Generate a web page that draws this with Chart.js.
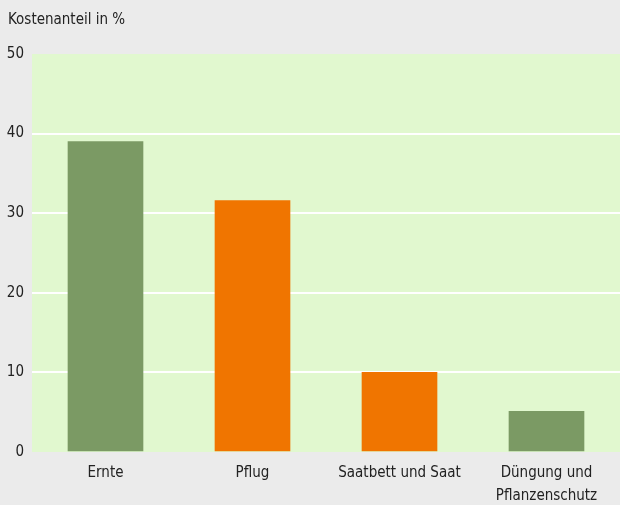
<!DOCTYPE html>
<html><head><meta charset="utf-8">
<script src="https://cdn.jsdelivr.net/npm/chart.js@4"></script>
<style>html,body{margin:0;padding:0;background:#ebebeb;}#wrap{width:620px;height:505px;position:relative;}</style>
</head><body>
<div id="wrap"><canvas id="c" width="620" height="505"></canvas></div>
<script>
const categories = ['Ernte', 'Pflug', 'Saatbett und Saat', ['Düngung und', 'Pflanzenschutz']];
const values = [39, 31.6, 10, 5.1];
const barColors = ['#7b9a64', '#f07500', '#f07500', '#7b9a64'];
const yTicks = [0, 10, 20, 30, 40, 50];
const yTitle = 'Kostenanteil in %';

const FONT = "'Liberation Sans Narrow', 'DejaVu Sans Condensed', 'Roboto', sans-serif";

const bgPlugin = {
  id: 'bg',
  beforeDraw(chart) {
    const {ctx, chartArea: a} = chart;
    ctx.save();
    ctx.fillStyle = '#ebebeb';
    ctx.fillRect(0, 0, chart.width, chart.height);
    ctx.fillStyle = '#e1f8cf';
    ctx.fillRect(a.left, a.top, a.right - a.left, a.bottom - a.top);
    ctx.fillStyle = '#222';
    ctx.font = '15px ' + FONT;
    ctx.textBaseline = 'middle';
    ctx.textAlign = 'left';
    ctx.fillText(yTitle, 8, 20);
    ctx.restore();
  }
};

new Chart(document.getElementById('c'), {
  type: 'bar',
  data: {
    labels: categories,
    datasets: [{ data: values, backgroundColor: barColors, barThickness: 75, borderWidth: 0 }]
  },
  options: {
    responsive: false,
    animation: false,
    devicePixelRatio: 1,
    layout: { padding: { top: 54, right: 0, left: 0, bottom: 0 } },
    plugins: { legend: { display: false }, tooltip: { enabled: false } },
    scales: {
      x: {
        grid: { display: false, drawTicks: false },
        border: { display: false },
        ticks: { color: '#222', font: { family: FONT, size: 15, lineHeight: 1.55 }, padding: 9, maxRotation: 0, autoSkip: false },
        afterFit(s) { s.height = 53; }
      },
      y: {
        min: 0, max: 50,
        afterBuildTicks(s) { s.ticks = yTicks.map(v => ({ value: v })); },
        grid: {
          color: (c) => (c.tick && (c.tick.value === 0 || c.tick.value === 50)) ? 'rgba(0,0,0,0)' : '#ffffff',
          lineWidth: 2, drawTicks: false
        },
        border: { display: false },
        ticks: { color: '#222', font: { family: FONT, size: 15 }, padding: 8 },
        afterFit(s) { s.width = 32; }
      }
    }
  },
  plugins: [bgPlugin]
});
</script>
</body></html>
